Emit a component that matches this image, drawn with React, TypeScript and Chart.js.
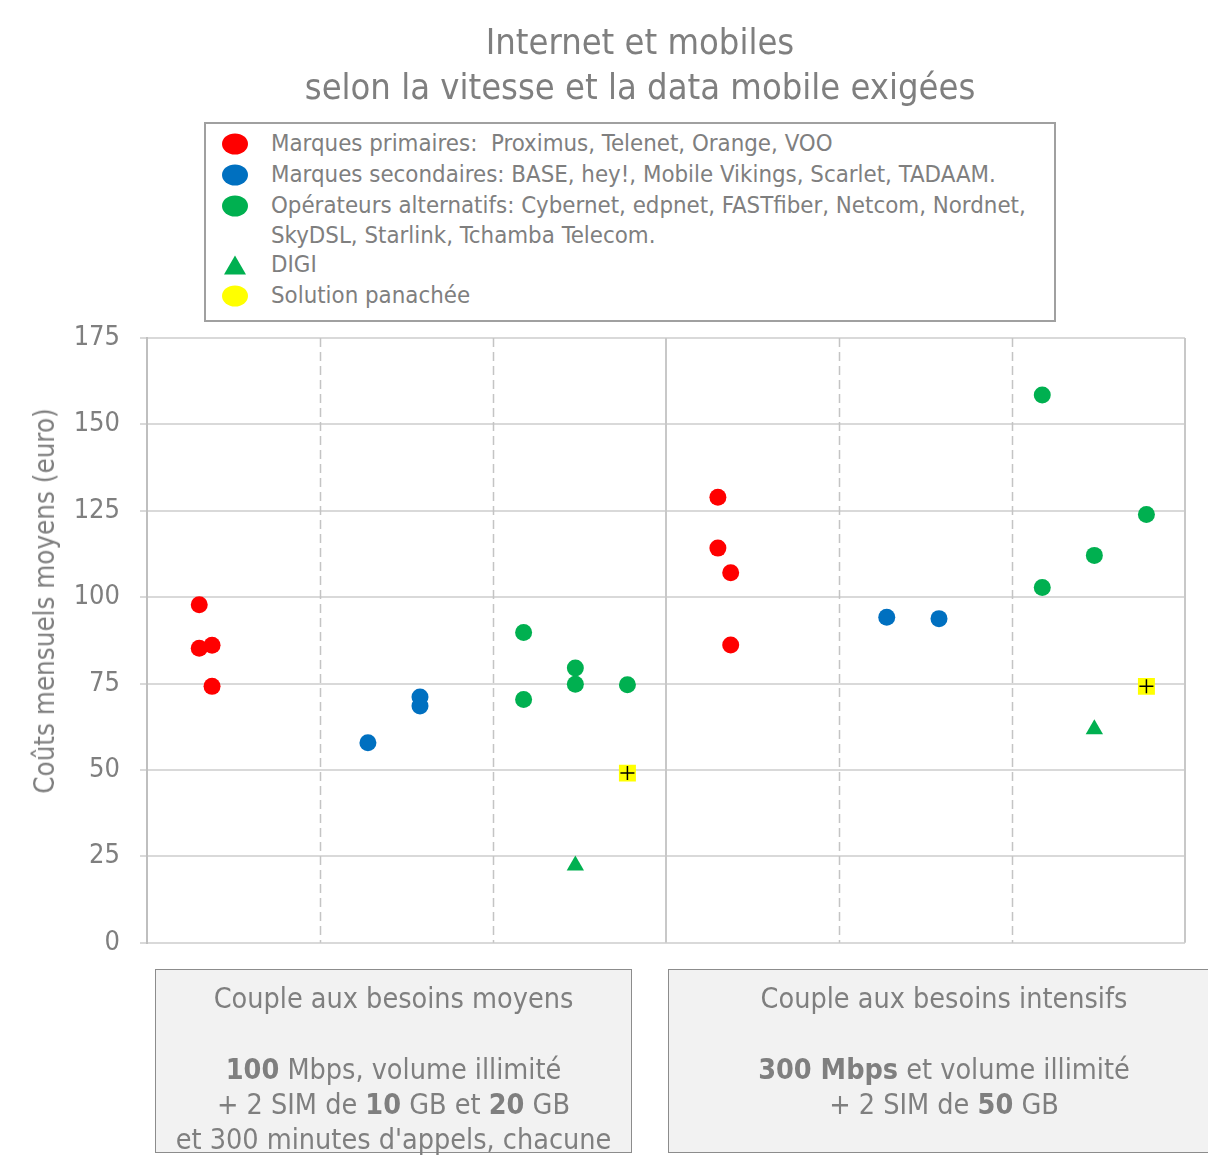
import React, { useEffect, useRef } from "react";
import { Chart, registerables } from "chart.js";

Chart.register(...registerables);

// ---------- DATA ----------
const titleLines = ["Internet et mobiles", "selon la vitesse et la data mobile exigées"];
const yAxisTitle = "Coûts mensuels moyens (euro)";
const yMin = 0;
const yMax = 175;
const yStep = 25;

const legendLabels = [
  "Marques primaires:  Proximus, Telenet, Orange, VOO",
  "Marques secondaires: BASE, hey!, Mobile Vikings, Scarlet, TADAAM.",
  "Opérateurs alternatifs: Cybernet, edpnet, FASTfiber, Netcom, Nordnet,\nSkyDSL, Starlink, Tchamba Telecom.",
  "DIGI",
  "Solution panachée",
];

// x = position within the two groups (0-3: besoins moyens, 3-6: besoins intensifs)
const primaryX = [0.302, 0.302, 0.376, 0.376, 3.30, 3.30, 3.374, 3.374];
const primaryY = [97.8, 85.2, 86.1, 74.2, 128.9, 114.2, 107.1, 86.2];

const secondaryX = [1.277, 1.578, 1.578, 4.276, 4.578];
const secondaryY = [57.9, 71.1, 68.5, 94.2, 93.8];

const alternativeX = [2.177, 2.177, 2.476, 2.476, 2.777, 5.175, 5.175, 5.476, 5.777];
const alternativeY = [89.8, 70.4, 79.5, 74.8, 74.7, 158.5, 102.8, 112.1, 123.9];

const digiX = [2.476, 5.476];
const digiY = [22.4, 61.8];

const mixedX = [2.777, 5.777];
const mixedY = [49.1, 74.2];

const groupCount = 6;
const solidDividers = [3, 6];
const dashedDividers = [1, 2, 4, 5];

// ---------- STYLE ----------
const FONT = '"DejaVu Sans Condensed", "DejaVu Sans", sans-serif';
const TEXT = "#7f7f7f";
const RED = "#ff0000";
const BLUE = "#0070c0";
const GREEN = "#00b050";
const YELLOW = "#ffff00";

const pts = (xs: number[], ys: number[]) => xs.map((x, i) => ({ x, y: ys[i] }));

const dividerPlugin = {
  id: "dividers",
  beforeDatasetsDraw(chart: any) {
    const { ctx, chartArea, scales } = chart;
    const xs = scales.x;
    ctx.save();
    ctx.strokeStyle = "#c4c4c4";
    ctx.lineWidth = 1.5;
    ctx.setLineDash([9, 5]);
    dashedDividers.forEach((v) => {
      const px = Math.round(xs.getPixelForValue(v)) + 0.5;
      ctx.beginPath();
      ctx.moveTo(px, chartArea.top);
      ctx.lineTo(px, chartArea.bottom);
      ctx.stroke();
    });
    ctx.setLineDash([]);
    ctx.lineWidth = 2;
    ctx.strokeStyle = "#c8c8c8";
    solidDividers.forEach((v) => {
      const px = Math.round(xs.getPixelForValue(v));
      ctx.beginPath();
      ctx.moveTo(px, chartArea.top);
      ctx.lineTo(px, chartArea.bottom);
      ctx.stroke();
    });
    ctx.restore();
  },
};

function LegendMarker({ kind, color }: { kind: string; color: string }) {
  if (kind === "triangle") {
    return (
      <div
        style={{
          width: 0,
          height: 0,
          borderLeft: "11px solid transparent",
          borderRight: "11px solid transparent",
          borderBottom: `19px solid ${color}`,
        }}
      />
    );
  }
  return <div style={{ width: 26, height: 21, borderRadius: "50%", background: color }} />;
}

export default function App() {
  const canvasRef = useRef<HTMLCanvasElement | null>(null);

  useEffect(() => {
    document.body.style.overflow = "hidden";
    const canvas = canvasRef.current;
    if (!canvas) return;
    const chart = new Chart(canvas, {
      type: "scatter",
      data: {
        datasets: [
          {
            label: "cross",
            data: pts(mixedX, mixedY),
            pointStyle: "cross",
            pointRadius: 7,
            borderColor: "#000000",
            backgroundColor: "#000000",
            borderWidth: 1.5,
          },
          {
            label: legendLabels[4],
            data: pts(mixedX, mixedY),
            pointStyle: "rect",
            pointRadius: 12,
            backgroundColor: YELLOW,
            borderWidth: 0,
          },
          {
            label: legendLabels[3],
            data: pts(digiX, digiY),
            pointStyle: "triangle",
            pointRadius: 10,
            backgroundColor: GREEN,
            borderWidth: 0,
          },
          {
            label: legendLabels[0],
            data: pts(primaryX, primaryY),
            pointStyle: "circle",
            pointRadius: 8.5,
            backgroundColor: RED,
            borderWidth: 0,
          },
          {
            label: legendLabels[1],
            data: pts(secondaryX, secondaryY),
            pointStyle: "circle",
            pointRadius: 8.5,
            backgroundColor: BLUE,
            borderWidth: 0,
          },
          {
            label: legendLabels[2],
            data: pts(alternativeX, alternativeY),
            pointStyle: "circle",
            pointRadius: 8.5,
            backgroundColor: GREEN,
            borderWidth: 0,
          },
        ],
      },
      options: {
        responsive: false,
        animation: false,
        devicePixelRatio: 1,
        layout: { padding: { top: 330, right: 31, bottom: 26, left: 0 } },
        plugins: {
          legend: { display: false },
          tooltip: { enabled: false },
        },
        scales: {
          x: {
            type: "linear",
            display: false,
            min: 0,
            max: groupCount,
          },
          y: {
            min: yMin,
            max: yMax,
            ticks: {
              stepSize: yStep,
              color: TEXT,
              padding: 20,
              font: { family: FONT, size: 27 },
            },
            grid: { color: "#d9d9d9", lineWidth: 2, tickLength: 7 },
            border: { color: "#bfbfbf", width: 2 },
            afterFit: (s: any) => {
              s.width = 139;
            },
          },
        },
      },
      plugins: [dividerPlugin],
    });
    return () => chart.destroy();
  }, []);

  const legendRows = [
    { y: 144, kind: "circle", color: RED, text: legendLabels[0] },
    { y: 175, kind: "circle", color: BLUE, text: legendLabels[1] },
    { y: 206, kind: "circle", color: GREEN, text: legendLabels[2] },
    { y: 265, kind: "triangle", color: GREEN, text: legendLabels[3] },
    { y: 296, kind: "circle", color: YELLOW, text: legendLabels[4] },
  ];

  // wrapper origin is page (8,8)
  const O = 8;

  return (
    <div
      style={{
        position: "relative",
        width: 1208,
        height: 1154,
        overflow: "hidden",
        fontFamily: FONT,
        color: TEXT,
      }}
    >
      <div
        style={{
          position: "absolute",
          left: -1,
          top: -1,
          width: 1300,
          height: 1300,
          borderTop: "1.5px solid #8c8c8c",
          borderLeft: "1.5px solid #8c8c8c",
        }}
      />
      <canvas
        ref={canvasRef}
        width={1208}
        height={971}
        style={{ position: "absolute", left: 0, top: 0 }}
      />
      {titleLines.map((t, i) => (
        <div
          key={i}
          style={{
            position: "absolute",
            left: 640 - O,
            top: (i === 0 ? 42 : 87) - O,
            transform: "translate(-50%, -50%)",
            whiteSpace: "nowrap",
            fontSize: 36,
            lineHeight: "44px",
          }}
        >
          {t}
        </div>
      ))}
      {/* legend box */}
      <div
        style={{
          position: "absolute",
          left: 204 - O,
          top: 122 - O,
          width: 852,
          height: 200,
          boxSizing: "border-box",
          border: "2px solid #a0a0a0",
          background: "#ffffff",
        }}
      />
      {legendRows.map((r, i) => (
        <React.Fragment key={i}>
          <div
            style={{
              position: "absolute",
              left: 235 - O,
              top: r.y - O,
              transform: "translate(-50%, -50%)",
            }}
          >
            <LegendMarker kind={r.kind} color={r.color} />
          </div>
          <div
            style={{
              position: "absolute",
              left: 271 - O,
              top: r.y - O - 15,
              whiteSpace: "pre",
              fontSize: 23.8,
              lineHeight: "29.5px",
            }}
          >
            {r.text}
          </div>
        </React.Fragment>
      ))}
      {/* y axis title */}
      <div
        style={{
          position: "absolute",
          left: 44 - O,
          top: 601 - O,
          transform: "translate(-50%, -50%) rotate(-90deg)",
          whiteSpace: "nowrap",
          fontSize: 27.5,
          lineHeight: "32px",
        }}
      >
        {yAxisTitle}
      </div>
      {/* group boxes */}
      <div
        style={{
          position: "absolute",
          left: 155 - O,
          top: 969 - O,
          width: 477,
          height: 184,
          boxSizing: "border-box",
          border: "1.5px solid #8c8c8c",
          background: "#f2f2f2",
        }}
      />
      <div
        style={{
          position: "absolute",
          left: 155 - O,
          top: 981 - O,
          width: 477,
          textAlign: "center",
          fontSize: 28.5,
          lineHeight: "35.3px",
        }}
      >
        <div>Couple aux besoins moyens</div>
        <div>&nbsp;</div>
        <div>
          <b>100</b> Mbps, volume illimité
        </div>
        <div>
          + 2 SIM de <b>10</b> GB et <b>20</b> GB
        </div>
        <div style={{ whiteSpace: "nowrap" }}>et 300 minutes d'appels, chacune</div>
      </div>
      <div
        style={{
          position: "absolute",
          left: 668 - O,
          top: 969 - O,
          width: 620,
          height: 184,
          boxSizing: "border-box",
          border: "1.5px solid #8c8c8c",
          background: "#f2f2f2",
        }}
      />
      <div
        style={{
          position: "absolute",
          left: 668 - O,
          top: 981 - O,
          width: 552,
          textAlign: "center",
          fontSize: 28.5,
          lineHeight: "35.3px",
        }}
      >
        <div>Couple aux besoins intensifs</div>
        <div>&nbsp;</div>
        <div>
          <b>300 Mbps</b> et volume illimité
        </div>
        <div>
          + 2 SIM de <b>50</b> GB
        </div>
      </div>
    </div>
  );
}
